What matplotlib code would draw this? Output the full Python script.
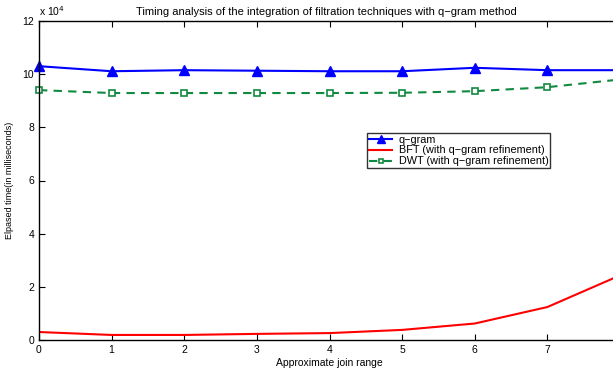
import matplotlib
matplotlib.use("Agg")
import matplotlib.pyplot as plt
from matplotlib.ticker import FuncFormatter

# Approximate join range
join_range = [0, 1, 2, 3, 4, 5, 6, 7, 8]

# Elapsed time in milliseconds
qgram = [103000, 101100, 101500, 101300, 101100, 101100, 102400, 101500, 101500]
bft = [3000, 1900, 1900, 2300, 2600, 3800, 6200, 12400, 24300]
dwt = [94000, 92900, 92900, 92900, 92900, 93000, 93600, 95100, 98000]

plt.rcParams["font.family"] = ["Liberation Sans", "DejaVu Sans"]

fig = plt.figure(figsize=(6.13, 3.71), dpi=100)
ax = fig.add_axes([39 / 613, 31 / 371, 581 / 613, 319 / 371])

ax.plot(join_range, qgram, color="#0000ff", lw=1.5, marker="^", ms=7,
        clip_on=False, label="q\u2212gram")
ax.plot(join_range, bft, color="#ff0000", lw=1.5,
        label="BFT (with q\u2212gram refinement)")
ax.plot(join_range, dwt, color="#108a40", lw=1.5, ls=(0, (4, 3)), marker="s",
        ms=4, mfc="white", mew=1.2, clip_on=False,
        label="DWT (with q\u2212gram refinement)")

ax.set_xlim(0, 8)
ax.set_ylim(0, 120000)
ax.set_xticks(range(0, 8))
ax.set_yticks(range(0, 120001, 20000))
ax.yaxis.set_major_formatter(FuncFormatter(lambda v, p: f"{v / 1e4:g}"))
ax.tick_params(direction="in", labelsize=7.5, top=True, right=True, length=4)
for s in ax.spines.values():
    s.set_linewidth(1.0)

ax.text(0.0, 1.008, "x 10$^4$", transform=ax.transAxes, fontsize=7.5,
        ha="left", va="bottom")
ax.set_title("Timing analysis of the integration of filtration techniques with q\u2212gram method",
             fontsize=8, pad=4, x=0.5 * 574 / 581)
ax.set_xlabel("Approximate join range", fontsize=7.5, labelpad=2)
ax.set_ylabel("Elpased time(in milliseconds)", fontsize=6.5, labelpad=6)

leg = ax.legend(loc="upper left", bbox_to_anchor=(328 / 581, (340 - 133) / 319),
                fontsize=7.8, frameon=True, fancybox=False, edgecolor="black",
                borderpad=0.15, labelspacing=0.08, handlelength=2.2,
                handletextpad=0.6, borderaxespad=0, markerscale=0.75)
leg.get_frame().set_linewidth(1.0)

fig.savefig("out.png", dpi=100)
